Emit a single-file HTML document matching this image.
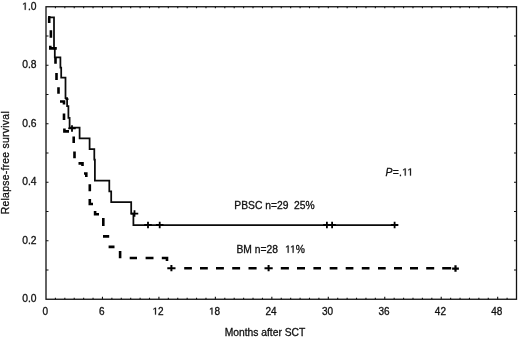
<!DOCTYPE html>
<html><head><meta charset="utf-8"><style>
html,body{margin:0;padding:0;background:#fff;}
svg{display:block;filter:grayscale(1);}
text{font-family:"Liberation Sans",sans-serif;fill:#111;stroke:#111;stroke-width:0.3px;}
.h{fill-opacity:0;stroke-opacity:0;}
.one{fill:#111;stroke:#111;stroke-width:0.3px;}
</style></head><body>
<svg width="520" height="338" viewBox="0 0 520 338">
<rect x="46.0" y="6.75" width="470.5" height="292.5" fill="none" stroke="#111" stroke-width="1.3"/>
<path d="M55.41 299.25 v-1.5 M55.41 6.75 v1.5 M64.82 299.25 v-1.5 M64.82 6.75 v1.5 M74.23 299.25 v-1.5 M74.23 6.75 v1.5 M83.64 299.25 v-1.5 M83.64 6.75 v1.5 M93.05 299.25 v-1.5 M93.05 6.75 v1.5 M102.46 299.25 v-2.5 M102.46 6.75 v1.5 M111.87 299.25 v-1.5 M111.87 6.75 v1.5 M121.28 299.25 v-1.5 M121.28 6.75 v1.5 M130.69 299.25 v-1.5 M130.69 6.75 v1.5 M140.10 299.25 v-1.5 M140.10 6.75 v1.5 M149.51 299.25 v-1.5 M149.51 6.75 v1.5 M158.92 299.25 v-2.5 M158.92 6.75 v1.5 M168.33 299.25 v-1.5 M168.33 6.75 v1.5 M177.74 299.25 v-1.5 M177.74 6.75 v1.5 M187.15 299.25 v-1.5 M187.15 6.75 v1.5 M196.56 299.25 v-1.5 M196.56 6.75 v1.5 M205.97 299.25 v-1.5 M205.97 6.75 v1.5 M215.38 299.25 v-2.5 M215.38 6.75 v1.5 M224.79 299.25 v-1.5 M224.79 6.75 v1.5 M234.20 299.25 v-1.5 M234.20 6.75 v1.5 M243.61 299.25 v-1.5 M243.61 6.75 v1.5 M253.02 299.25 v-1.5 M253.02 6.75 v1.5 M262.43 299.25 v-1.5 M262.43 6.75 v1.5 M271.84 299.25 v-2.5 M271.84 6.75 v1.5 M281.25 299.25 v-1.5 M281.25 6.75 v1.5 M290.66 299.25 v-1.5 M290.66 6.75 v1.5 M300.07 299.25 v-1.5 M300.07 6.75 v1.5 M309.48 299.25 v-1.5 M309.48 6.75 v1.5 M318.89 299.25 v-1.5 M318.89 6.75 v1.5 M328.30 299.25 v-2.5 M328.30 6.75 v1.5 M337.71 299.25 v-1.5 M337.71 6.75 v1.5 M347.12 299.25 v-1.5 M347.12 6.75 v1.5 M356.53 299.25 v-1.5 M356.53 6.75 v1.5 M365.94 299.25 v-1.5 M365.94 6.75 v1.5 M375.35 299.25 v-1.5 M375.35 6.75 v1.5 M384.76 299.25 v-2.5 M384.76 6.75 v1.5 M394.17 299.25 v-1.5 M394.17 6.75 v1.5 M403.58 299.25 v-1.5 M403.58 6.75 v1.5 M412.99 299.25 v-1.5 M412.99 6.75 v1.5 M422.40 299.25 v-1.5 M422.40 6.75 v1.5 M431.81 299.25 v-1.5 M431.81 6.75 v1.5 M441.22 299.25 v-2.5 M441.22 6.75 v1.5 M450.63 299.25 v-1.5 M450.63 6.75 v1.5 M460.04 299.25 v-1.5 M460.04 6.75 v1.5 M469.45 299.25 v-1.5 M469.45 6.75 v1.5 M478.86 299.25 v-1.5 M478.86 6.75 v1.5 M488.27 299.25 v-1.5 M488.27 6.75 v1.5 M497.68 299.25 v-2.5 M497.68 6.75 v1.5 M507.09 299.25 v-1.5 M507.09 6.75 v1.5 M46.0 270.00 h2.5 M516.5 270.00 h-2.5 M46.0 240.75 h2.5 M516.5 240.75 h-2.5 M46.0 211.50 h2.5 M516.5 211.50 h-2.5 M46.0 182.25 h2.5 M516.5 182.25 h-2.5 M46.0 153.00 h2.5 M516.5 153.00 h-2.5 M46.0 123.75 h2.5 M516.5 123.75 h-2.5 M46.0 94.50 h2.5 M516.5 94.50 h-2.5 M46.0 65.25 h2.5 M516.5 65.25 h-2.5 M46.0 36.00 h2.5 M516.5 36.00 h-2.5" stroke="#111" stroke-width="1.1" fill="none"/>
<path d="M48.3 17.3 H54 V48.3 H54.8 V57.3 H60.4 V67.5 H61.2 V77.5 H65.5 V98 H67.1 V106 H68.4 V117.8 H69.6 V127.5 H79.6 V138.3 H89.6 V149 H94.3 V159.7 H94.9 V180.6 H109.3 V191.3 H111.2 V202.2 H131.2 V213.6 H133.4 V225 H397.5" stroke="#0a0a0a" stroke-width="1.75" fill="none" stroke-linejoin="miter" stroke-linecap="butt"/>
<path d="M68.25 128.4 h7.5 M72.0 125.15 v6.5" stroke="#000" stroke-width="1.8" fill="none"/>
<path d="M130.75 213.6 h7.5 M134.5 210.35 v6.5" stroke="#000" stroke-width="1.8" fill="none"/>
<path d="M144.25 225 h7.5 M148.0 221.75 v6.5" stroke="#000" stroke-width="1.8" fill="none"/>
<path d="M155.95 225 h7.5 M159.7 221.75 v6.5" stroke="#000" stroke-width="1.8" fill="none"/>
<path d="M323.15 225 h7.5 M326.9 221.75 v6.5" stroke="#000" stroke-width="1.8" fill="none"/>
<path d="M328.35 225 h7.5 M332.1 221.75 v6.5" stroke="#000" stroke-width="1.8" fill="none"/>
<path d="M390.85 225 h7.5 M394.6 221.75 v6.5" stroke="#000" stroke-width="1.8" fill="none"/>
<path d="M48.1 17.4 H49.2 V22.9 M50.9 30.3 V37.8 M50.3 45.8 V48.4 H56.8 M55.5 57.8 V63.7 M56.5 73 V80 M58.5 87.2 V93.8 M60 101.5 H64 V104.5 M64 113.6 V120 M64.4 128.5 V131.4 H69 M73.7 136.5 V143 M74.5 151.5 V158.2 M78.5 163.4 H82.5 V166 M84 173.5 H86.3 V177 M89.8 184.2 V191.3 M89.8 199 V204 H93 M95.1 211 V214.2 H99 M103.3 218 V226 M103 236.4 H109.2 M108.6 246.9 H114.5 M120.1 250.9 V258.3 M129.7 258 H137 M145.6 258 H153.5 M161.8 258 H167 V261 M184.2 268.2 H191.9 M200 268.2 H207.8 M216 268.2 H223.9 M232.2 268.2 H240.1 M248.5 268.2 H256.6 M280.8 268.2 H288.9 M297 268.2 H305 M313.4 268.2 H321 M329.7 268.2 H337.4 M345.7 268.2 H353.4 M361.8 268.2 H369.5 M378 268.2 H385.7 M394 268.2 H402 M410 268.2 H418 M426.2 268.2 H434.2 M442.2 268.2 H451.2" stroke="#000" stroke-width="2.6" fill="none" stroke-linecap="butt" stroke-linejoin="miter"/>
<path d="M65.5 99.2 h3" stroke="#000" stroke-width="1.6" fill="none"/>
<path d="M167.30 268.2 h8.2 M171.4 265.10 v6.2" stroke="#000" stroke-width="2.0" fill="none"/>
<path d="M264.50 268.2 h8.2 M268.6 265.10 v6.2" stroke="#000" stroke-width="2.0" fill="none"/>
<path d="M452.10 268.6 h6.8 M455.5 265.35 v6.5" stroke="#000" stroke-width="2.2" fill="none"/>
<text x="36.5" y="302.25" font-size="10.3" text-anchor="end" >0.0</text>
<text x="36.5" y="243.75" font-size="10.3" text-anchor="end" >0.2</text>
<text x="36.5" y="185.25" font-size="10.3" text-anchor="end" >0.4</text>
<text x="36.5" y="126.74999999999997" font-size="10.3" text-anchor="end" >0.6</text>
<text x="36.5" y="68.25" font-size="10.3" text-anchor="end" >0.8</text>
<text x="36.5" y="9.75" font-size="10.3" text-anchor="end" ><tspan class="h">1</tspan>.0</text>
<text x="45.2" y="314.6" font-size="10.0" text-anchor="middle" >0</text>
<text x="101.66000000000001" y="314.6" font-size="10.0" text-anchor="middle" >6</text>
<text x="158.12" y="314.6" font-size="10.0" text-anchor="middle" ><tspan class="h">1</tspan>2</text>
<text x="214.57999999999998" y="314.6" font-size="10.0" text-anchor="middle" ><tspan class="h">1</tspan>8</text>
<text x="271.04" y="314.6" font-size="10.0" text-anchor="middle" >24</text>
<text x="327.5" y="314.6" font-size="10.0" text-anchor="middle" >30</text>
<text x="383.96" y="314.6" font-size="10.0" text-anchor="middle" >36</text>
<text x="440.42" y="314.6" font-size="10.0" text-anchor="middle" >42</text>
<text x="496.88" y="314.6" font-size="10.0" text-anchor="middle" >48</text>
<text x="265" y="335.8" font-size="10.3" text-anchor="middle" >Months after SCT</text>
<text x="234.3" y="209.3" font-size="10.3" text-anchor="start" >PBSC n=29&#160;&#160;25%</text>
<text x="236.5" y="252.7" font-size="10.3" text-anchor="start" >BM n=28</text>
<text x="285.1" y="252.7" font-size="10.3" text-anchor="start" ><tspan class="h">1</tspan><tspan class="h">1</tspan>%</text>
<text x="385.6" y="175.6" font-size="10.4" textLength="27.6" lengthAdjust="spacing"><tspan font-style="italic">P</tspan>=.<tspan class="h">1</tspan><tspan class="h">1</tspan></text>
<text transform="translate(9.4,162.8) rotate(-90)" font-size="10.4" text-anchor="middle" textLength="103" lengthAdjust="spacing">Relapse-free survival</text>
<path class="one" d="M24.76 9.75 L24.76 3.53 L23.16 4.67 L23.16 3.82 L24.84 2.66 L25.67 2.66 L25.67 9.75Z"/>
<path class="one" d="M155.07 314.60 L155.07 308.56 L153.52 309.67 L153.52 308.84 L155.15 307.72 L155.96 307.72 L155.96 314.60Z"/>
<path class="one" d="M211.53 314.60 L211.53 308.56 L209.98 309.67 L209.98 308.84 L211.61 307.72 L212.42 307.72 L212.42 314.60Z"/>
<path class="one" d="M287.69 252.70 L287.69 246.48 L286.09 247.62 L286.09 246.77 L287.77 245.61 L288.60 245.61 L288.60 252.70Z"/>
<path class="one" d="M292.66 252.70 L292.66 246.48 L291.06 247.62 L291.06 246.77 L292.73 245.61 L293.57 245.61 L293.57 252.70Z"/>
<path class="one" d="M404.79 175.60 L404.79 169.32 L403.18 170.47 L403.18 169.61 L404.87 168.44 L405.71 168.44 L405.71 175.60Z"/>
<path class="one" d="M410.03 175.60 L410.03 169.32 L408.42 170.47 L408.42 169.61 L410.11 168.44 L410.95 168.44 L410.95 175.60Z"/>
</svg>
</body></html>
